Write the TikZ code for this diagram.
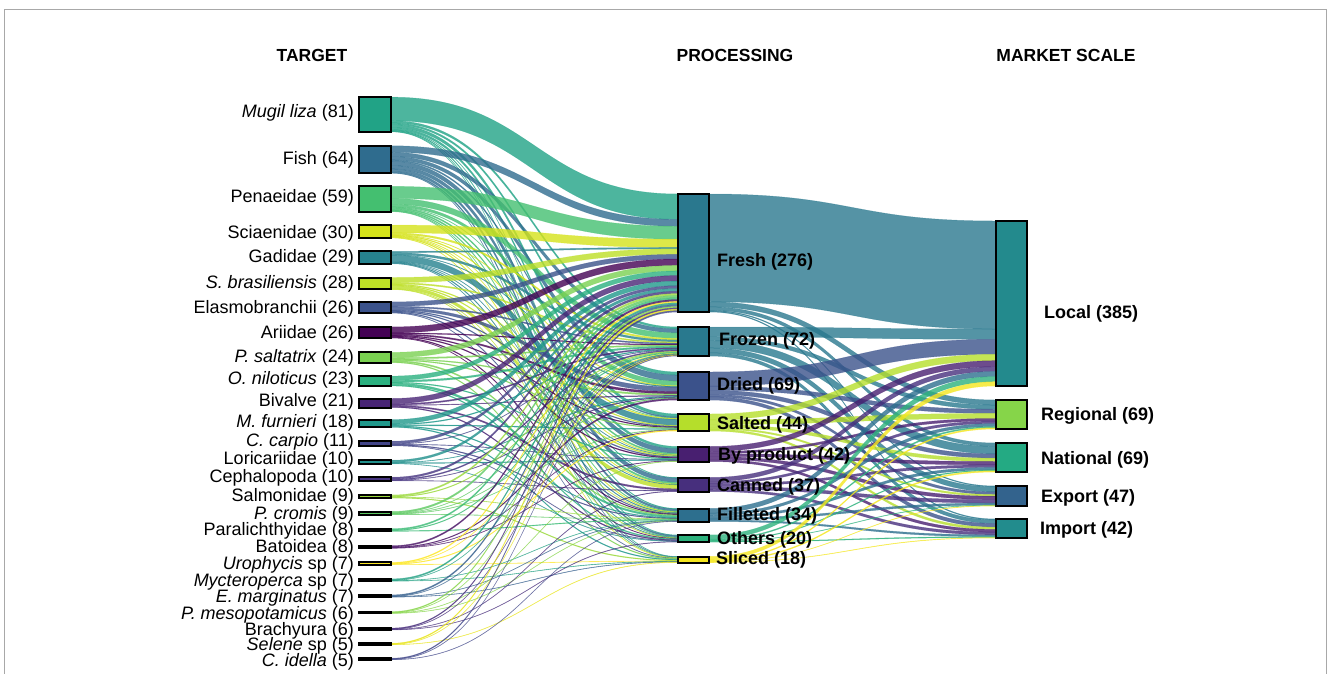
\documentclass[tikz,border=0pt]{standalone}
\usepackage{fontspec}
\setmainfont{Liberation Sans}
\pgfdeclarelayer{bg}
\pgfsetlayers{bg,main}
% target colours
\definecolor{ct1}{HTML}{21A386}
\definecolor{ct2}{HTML}{2F6C8E}
\definecolor{ct3}{HTML}{44BF70}
\definecolor{ct4}{HTML}{D5E21A}
\definecolor{ct5}{HTML}{26828E}
\definecolor{ct6}{HTML}{BDDF26}
\definecolor{ct7}{HTML}{3B528B}
\definecolor{ct8}{HTML}{440154}
\definecolor{ct9}{HTML}{7AD151}
\definecolor{ct10}{HTML}{2AB07F}
\definecolor{ct11}{HTML}{482475}
\definecolor{ct12}{HTML}{1F988B}
\definecolor{ct13}{HTML}{414487}
\definecolor{ct14}{HTML}{21908C}
\definecolor{ct15}{HTML}{463480}
\definecolor{ct16}{HTML}{9BD93C}
\definecolor{ct17}{HTML}{5EC962}
\definecolor{ct18}{HTML}{3BBB75}
\definecolor{ct19}{HTML}{471164}
\definecolor{ct20}{HTML}{FDE725}
\definecolor{ct21}{HTML}{23A083}
\definecolor{ct22}{HTML}{355F8D}
\definecolor{ct23}{HTML}{86D549}
\definecolor{ct24}{HTML}{472D7B}
\definecolor{ct25}{HTML}{E8E419}
\definecolor{ct26}{HTML}{404688}
% processing colours
\definecolor{cp1}{HTML}{2A788E}
\definecolor{cp2}{HTML}{29798E}
\definecolor{cp3}{HTML}{3B528B}
\definecolor{cp4}{HTML}{B5DE2B}
\definecolor{cp5}{HTML}{481F70}
\definecolor{cp6}{HTML}{472F7D}
\definecolor{cp7}{HTML}{2D6F8E}
\definecolor{cp8}{HTML}{2DB27D}
\definecolor{cp9}{HTML}{F4E61E}
% market colours
\definecolor{cm1}{HTML}{238A8D}
\definecolor{cm2}{HTML}{86D549}
\definecolor{cm3}{HTML}{24AA83}
\definecolor{cm4}{HTML}{33638D}
\definecolor{cm5}{HTML}{228C8D}
\definecolor{framegray}{HTML}{A8A8A8}

\def\sgetv#1#2{\expandafter\let\expandafter#1\csname #2\endcsname}
\newcommand\mkbox[5]{% name, x, y, height, width
  \node[nbox, fill=c#1, minimum height=#4pt, minimum width=#5pt] (#1) at (#2,#3) {};
  \expandafter\xdef\csname hout#1\endcsname{#4}%
  \expandafter\xdef\csname hin#1\endcsname{#4}%
  \expandafter\gdef\csname tout#1\endcsname{0}%
  \expandafter\gdef\csname tin#1\endcsname{0}%
  \expandafter\gdef\csname cout#1\endcsname{0}%
  \expandafter\gdef\csname cin#1\endcsname{0}%
}
\def\sumF#1#2#3{%
  \sgetv\fA{tout#1}\pgfmathsetmacro\fB{\fA+#3}\expandafter\xdef\csname tout#1\endcsname{\fB}%
  \sgetv\fA{tin#2}\pgfmathsetmacro\fB{\fA+#3}\expandafter\xdef\csname tin#2\endcsname{\fB}%
}
\def\drawF#1#2#3{%
  \sgetv\fHs{hout#1}\sgetv\fTs{tout#1}\sgetv\fCs{cout#1}%
  \sgetv\fHd{hin#2}\sgetv\fTd{tin#2}\sgetv\fCd{cin#2}%
  \pgfmathsetmacro\fSb{\fCs+(#3/\fTs)*\fHs}%
  \pgfmathsetmacro\fDb{\fCd+(#3/\fTd)*\fHd}%
  \expandafter\xdef\csname cout#1\endcsname{\fSb}%
  \expandafter\xdef\csname cin#2\endcsname{\fDb}%
  \filldraw[flw, fill=c#1, draw=c#1] ([yshift=-\fCs pt]#1.north east) .. controls +(143,0) and +(-143,0) .. ([yshift=-\fCd pt]#2.north west) -- ([yshift=-\fDb pt]#2.north west) .. controls +(-143,0) and +(143,0) .. ([yshift=-\fSb pt]#1.north east) -- cycle;
}
\def\TPflows{%
\FL{t1}{p1}{55}\FL{t1}{p2}{5}\FL{t1}{p3}{4}\FL{t1}{p4}{7}\FL{t1}{p5}{5}\FL{t1}{p6}{1}\FL{t1}{p7}{2}\FL{t1}{p8}{1}\FL{t1}{p9}{1}%
\FL{t2}{p1}{15}\FL{t2}{p2}{10}\FL{t2}{p3}{8}\FL{t2}{p4}{3}\FL{t2}{p5}{10}\FL{t2}{p6}{8}\FL{t2}{p7}{6}\FL{t2}{p8}{3}\FL{t2}{p9}{1}%
\FL{t3}{p1}{28}\FL{t3}{p2}{14}\FL{t3}{p3}{6}\FL{t3}{p4}{1}\FL{t3}{p5}{3}\FL{t3}{p6}{3}\FL{t3}{p7}{2}\FL{t3}{p8}{1}\FL{t3}{p9}{1}%
\FL{t4}{p1}{18}\FL{t4}{p2}{4}\FL{t4}{p3}{1}\FL{t4}{p4}{2}\FL{t4}{p5}{1}\FL{t4}{p6}{1}\FL{t4}{p7}{2}\FL{t4}{p9}{1}%
\FL{t5}{p1}{3}\FL{t5}{p2}{5}\FL{t5}{p3}{1}\FL{t5}{p4}{15}\FL{t5}{p5}{1}\FL{t5}{p6}{1}\FL{t5}{p7}{2}\FL{t5}{p8}{1}%
\FL{t6}{p1}{12}\FL{t6}{p2}{3}\FL{t6}{p4}{2}\FL{t6}{p5}{2}\FL{t6}{p6}{7}\FL{t6}{p7}{1}\FL{t6}{p8}{1}%
\FL{t7}{p1}{10}\FL{t7}{p2}{3}\FL{t7}{p3}{6}\FL{t7}{p4}{2}\FL{t7}{p5}{2}\FL{t7}{p7}{2}\FL{t7}{p9}{1}%
\FL{t8}{p1}{14}\FL{t8}{p2}{2}\FL{t8}{p3}{3}\FL{t8}{p4}{2}\FL{t8}{p5}{2}\FL{t8}{p7}{2}\FL{t8}{p8}{1}%
\FL{t9}{p1}{12}\FL{t9}{p2}{3}\FL{t9}{p3}{2}\FL{t9}{p4}{2}\FL{t9}{p7}{3}\FL{t9}{p9}{2}%
\FL{t10}{p1}{10}\FL{t10}{p2}{4}\FL{t10}{p5}{2}\FL{t10}{p7}{5}\FL{t10}{p8}{2}%
\FL{t11}{p1}{12}\FL{t11}{p2}{3}\FL{t11}{p3}{1}\FL{t11}{p6}{3}\FL{t11}{p8}{2}%
\FL{t12}{p1}{10}\FL{t12}{p2}{2}\FL{t12}{p4}{2}\FL{t12}{p7}{2}\FL{t12}{p9}{2}%
\FL{t13}{p1}{6}\FL{t13}{p2}{1}\FL{t13}{p5}{1}\FL{t13}{p7}{2}\FL{t13}{p8}{1}%
\FL{t14}{p1}{6}\FL{t14}{p3}{1}\FL{t14}{p5}{2}\FL{t14}{p8}{1}%
\FL{t15}{p1}{5}\FL{t15}{p2}{3}\FL{t15}{p3}{1}\FL{t15}{p6}{1}%
\FL{t16}{p1}{4}\FL{t16}{p2}{2}\FL{t16}{p7}{1}\FL{t16}{p9}{2}%
\FL{t17}{p1}{5}\FL{t17}{p2}{1}\FL{t17}{p3}{1}\FL{t17}{p4}{1}\FL{t17}{p7}{1}%
\FL{t18}{p1}{4}\FL{t18}{p2}{2}\FL{t18}{p7}{2}%
\FL{t19}{p1}{4}\FL{t19}{p3}{2}\FL{t19}{p4}{1}\FL{t19}{p5}{1}%
\FL{t20}{p1}{3}\FL{t20}{p2}{1}\FL{t20}{p4}{2}\FL{t20}{p9}{1}%
\FL{t21}{p1}{4}\FL{t21}{p2}{1}\FL{t21}{p7}{1}\FL{t21}{p9}{1}%
\FL{t22}{p1}{4}\FL{t22}{p2}{1}\FL{t22}{p7}{1}\FL{t22}{p9}{1}%
\FL{t23}{p1}{3}\FL{t23}{p2}{1}\FL{t23}{p5}{1}\FL{t23}{p7}{1}%
\FL{t24}{p1}{3}\FL{t24}{p2}{1}\FL{t24}{p6}{1}\FL{t24}{p8}{1}%
\FL{t25}{p1}{3}\FL{t25}{p2}{1}\FL{t25}{p9}{1}%
\FL{t26}{p1}{3}\FL{t26}{p2}{1}\FL{t26}{p7}{1}%
}
\def\PMflows{%
\FL{p1}{m1}{252}\FL{p1}{m2}{12}\FL{p1}{m3}{8}\FL{p1}{m4}{2}\FL{p1}{m5}{2}%
\FL{p2}{m1}{24}\FL{p2}{m2}{10}\FL{p2}{m3}{18}\FL{p2}{m4}{12}\FL{p2}{m5}{8}%
\FL{p3}{m1}{35}\FL{p3}{m2}{10}\FL{p3}{m3}{10}\FL{p3}{m4}{6}\FL{p3}{m5}{8}%
\FL{p4}{m1}{15}\FL{p4}{m2}{12}\FL{p4}{m3}{8}\FL{p4}{m4}{4}\FL{p4}{m5}{5}%
\FL{p5}{m1}{14}\FL{p5}{m2}{6}\FL{p5}{m3}{8}\FL{p5}{m4}{8}\FL{p5}{m5}{6}%
\FL{p6}{m1}{11}\FL{p6}{m2}{6}\FL{p6}{m3}{6}\FL{p6}{m4}{8}\FL{p6}{m5}{6}%
\FL{p7}{m1}{12}\FL{p7}{m2}{7}\FL{p7}{m3}{6}\FL{p7}{m4}{5}\FL{p7}{m5}{4}%
\FL{p8}{m1}{12}\FL{p8}{m2}{3}\FL{p8}{m3}{2}\FL{p8}{m4}{1}\FL{p8}{m5}{2}%
\FL{p9}{m1}{10}\FL{p9}{m2}{3}\FL{p9}{m3}{3}\FL{p9}{m4}{1}\FL{p9}{m5}{1}%
}

\begin{document}
\begin{tikzpicture}[x=1pt,y=-1pt,
  nbox/.style={draw=black, line width=2pt, rectangle, inner sep=0pt, outer sep=0pt},
  tlab/.style={anchor=east, inner sep=0pt, font=\fontsize{18}{20}\selectfont},
  plab/.style={anchor=west, inner sep=0pt, font=\bfseries\fontsize{18}{20}\selectfont},
  hdr/.style={inner sep=0pt, font=\bfseries\fontsize{17.5}{20}\selectfont},
  flw/.style={fill opacity=0.8, draw opacity=0.45, line width=0.5pt}]
\useasboundingbox (0,0) rectangle (1328,673);
\draw[framegray, line width=1.3pt] (4.5,675) -- (4.5,9.5) -- (1326.5,9.5) -- (1326.5,675);

% headers
\node[hdr] (h1) at (312,55) {TARGET};
\node[hdr] (h2) at (735,55) {PROCESSING};
\node[hdr] (h3) at (1066,55) {MARKET SCALE};

% target boxes
\mkbox{t1}{375}{114.5}{34.67}{32}
\mkbox{t2}{375}{159.5}{27.39}{32}
\mkbox{t3}{375}{199}{25.25}{32}
\mkbox{t4}{375}{231.5}{12.84}{32}
\mkbox{t5}{375}{257.5}{12.41}{32}
\mkbox{t6}{375}{283.5}{11.98}{32}
\mkbox{t7}{375}{307.5}{11.13}{32}
\mkbox{t8}{375}{332.5}{11.13}{32}
\mkbox{t9}{375}{357.5}{10.27}{32}
\mkbox{t10}{375}{381}{9.84}{32}
\mkbox{t11}{375}{403}{8.99}{32}
\mkbox{t12}{375}{423.5}{7.70}{32}
\mkbox{t13}{375}{443.5}{4.5}{32}
\mkbox{t14}{375}{462}{3.5}{32}
\mkbox{t15}{375}{479}{3.5}{32}
\mkbox{t16}{375}{496.5}{3.0}{32}
\mkbox{t17}{375}{513}{3.0}{32}
\mkbox{t18}{375}{530}{2.6}{32}
\mkbox{t19}{375}{547}{2.6}{32}
\mkbox{t20}{375}{563.5}{2.2}{32}
\mkbox{t21}{375}{580}{2.2}{32}
\mkbox{t22}{375}{596}{2.2}{32}
\mkbox{t23}{375}{612.5}{1.8}{32}
\mkbox{t24}{375}{629}{1.8}{32}
\mkbox{t25}{375}{644}{1.5}{32}
\mkbox{t26}{375}{659}{1.5}{32}

% processing boxes
\mkbox{p1}{693.5}{253}{118}{31}
\mkbox{p2}{693.5}{341.5}{29}{31}
\mkbox{p3}{693.5}{386}{28}{31}
\mkbox{p4}{693.5}{422.5}{17}{31}
\mkbox{p5}{693.5}{454}{15}{31}
\mkbox{p6}{693.5}{484.5}{14}{31}
\mkbox{p7}{693.5}{515}{13}{31}
\mkbox{p8}{693.5}{538.5}{7}{31}
\mkbox{p9}{693.5}{559.5}{6}{31}

% market boxes
\mkbox{m1}{1011.5}{303.5}{165}{31}
\mkbox{m2}{1011.5}{414.5}{29}{31}
\mkbox{m3}{1011.5}{457.5}{29}{31}
\mkbox{m4}{1011.5}{496}{20}{31}
\mkbox{m5}{1011.5}{528.5}{19}{31}

% target labels
\node[tlab] (lt1) at (354,113) {\textit{Mugil liza} (81)};
\node[tlab] (lt2) at (354,160) {Fish (64)};
\node[tlab] (lt3) at (354,198) {Penaeidae (59)};
\node[tlab] (lt4) at (354,233.5) {Sciaenidae (30)};
\node[tlab] (lt5) at (354,258) {Gadidae (29)};
\node[tlab] (lt6) at (354,284) {\textit{S. brasiliensis} (28)};
\node[tlab] (lt7) at (354,309) {Elasmobranchii (26)};
\node[tlab] (lt8) at (354,333.5) {Ariidae (26)};
\node[tlab] (lt9) at (354,357.5) {\textit{P. saltatrix} (24)};
\node[tlab] (lt10) at (354,380) {\textit{O. niloticus} (23)};
\node[tlab] (lt11) at (354,402) {Bivalve (21)};
\node[tlab] (lt12) at (354,423) {\textit{M. furnieri} (18)};
\node[tlab] (lt13) at (354,441.5) {\textit{C. carpio} (11)};
\node[tlab] (lt14) at (354,460) {Loricariidae (10)};
\node[tlab] (lt15) at (354,478) {Cephalopoda (10)};
\node[tlab] (lt16) at (354,496.5) {Salmonidae (9)};
\node[tlab] (lt17) at (354,514.5) {\textit{P. cromis} (9)};
\node[tlab] (lt18) at (354,531) {Paralichthyidae (8)};
\node[tlab] (lt19) at (354,548) {Batoidea (8)};
\node[tlab] (lt20) at (354,565) {\textit{Urophycis} sp (7)};
\node[tlab] (lt21) at (354,581.5) {\textit{Mycteroperca} sp (7)};
\node[tlab] (lt22) at (354,598) {\textit{E. marginatus} (7)};
\node[tlab] (lt23) at (354,614.5) {\textit{P. mesopotamicus} (6)};
\node[tlab] (lt24) at (354,631) {Brachyura (6)};
\node[tlab] (lt25) at (354,646) {\textit{Selene} sp (5)};
\node[tlab] (lt26) at (354,662) {\textit{C. idella} (5)};

% processing labels
\node[plab] (lp1) at (717,262) {Fresh (276)};
\node[plab] (lp2) at (719,341) {Frozen (72)};
\node[plab] (lp3) at (717,386) {Dried (69)};
\node[plab] (lp4) at (717,425) {Salted (44)};
\node[plab] (lp5) at (718,455.5) {By product (42)};
\node[plab] (lp6) at (717,486.5) {Canned (37)};
\node[plab] (lp7) at (717,515.5) {Filleted (34)};
\node[plab] (lp8) at (717,540) {Others (20)};
\node[plab] (lp9) at (716,560) {Sliced (18)};

% market labels
\node[plab] (lm1) at (1044,313.5) {Local (385)};
\node[plab] (lm2) at (1041,415.5) {Regional (69)};
\node[plab] (lm3) at (1041,459.5) {National (69)};
\node[plab] (lm4) at (1041,497.5) {Export (47)};
\node[plab] (lm5) at (1040,529.5) {Import (42)};

% flow totals
\let\FL\sumF
\TPflows
\PMflows
% flows
\begin{pgfonlayer}{bg}
\let\FL\drawF
\TPflows
\PMflows
\end{pgfonlayer}
\end{tikzpicture}
\end{document}
